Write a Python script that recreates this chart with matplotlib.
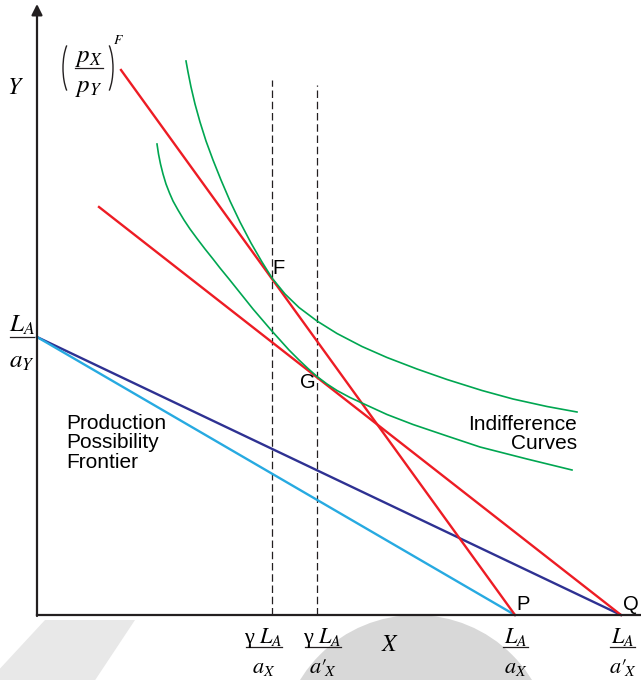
import matplotlib.pyplot as plt
import matplotlib.patches as mpatches
import numpy as np

plt.rcParams['mathtext.fontset'] = 'stix'
plt.rcParams['font.family'] = ['Liberation Sans', 'DejaVu Sans']

# chart values (origin at the corner of the axes)
y_intercept = 278          # L_A / a_Y
x_p = 478                  # L_A / a_X
x_q = 584                  # L_A / a'_X
gamma_x = [235, 280]       # gamma L_A / a_X , gamma L_A / a'_X
gamma_top = [535, 530]

# budget lines: start point, end on the X axis
red1_start = (84, 545)
red2_start = (62, 408)

# indifference curves
ic_high_x = [149, 151, 154, 158, 163, 169, 176, 184, 193, 203, 214, 225, 235, 248, 262,
             280, 300, 325, 350, 380, 410, 445, 476, 510, 540]
ic_high_y = [554, 543, 528, 511, 493, 474, 455, 435, 414, 393, 372, 353, 337, 321, 307.5,
             294, 281.5, 268.5, 257.5, 246, 235.5, 224.5, 216, 208.5, 203]
ic_low_x = [120, 121.5, 123.5, 126, 129, 132.5, 136, 141, 147, 153, 160, 168, 176, 183, 192,
            200, 208, 216, 225, 234, 243, 252, 262, 271, 280, 290, 300, 313, 326, 350, 376,
            410, 443, 490, 535]
ic_low_y = [471, 461, 451, 441, 431, 422, 414, 405, 395, 386, 376.5, 366, 356, 347, 336,
            326, 316, 306, 295.5, 285, 275, 265, 255, 246.5, 238.5, 231, 224.5, 217.5, 211.5,
            200.5, 190.5, 179, 168, 156, 145]

red = '#ED1C24'
green = '#00A651'
navy = '#2E3192'
sky = '#27AAE1'
ink = '#231F20'

fig = plt.figure(figsize=(6.41, 6.80), dpi=100)
ax = fig.add_axes([0, 0, 1, 1])
ax.set_xlim(-37, 604)
ax.set_ylim(-65, 615)
ax.axis('off')


def frac(x, y, num, den, size, half, up, down):
    # numerator, bar and denominator drawn apart, like the original
    ax.plot([x - half, x + half], [y, y], color=ink, lw=0.9)
    ax.text(x, y + up, num, fontsize=size, ha='center', va='baseline',
            family=['Liberation Serif', 'DejaVu Serif'])
    ax.text(x, y - down, den, fontsize=size, ha='center', va='baseline',
            family=['Liberation Serif', 'DejaVu Serif'])


# faint watermark shapes behind everything
ax.add_patch(mpatches.Polygon([(-80, -100), (8, -5), (98, -5), (35, -100)],
                              closed=True, color='#E8E8E8', zorder=0, lw=0))
ax.add_patch(mpatches.Circle((379, -136), 136, color='#D8D8D8', zorder=0, lw=0))

# axes
ax.annotate('', xy=(0, 611), xytext=(0, -1),
            arrowprops=dict(arrowstyle='-|>', lw=1.6, color=ink, mutation_scale=16, shrinkA=0, shrinkB=0))
ax.plot([0, 604], [0, 0], color=ink, lw=1.6, zorder=3)

# dashed verticals
for gx, gt in zip(gamma_x, gamma_top):
    ax.plot([gx, gx], [0, gt], color=ink, lw=0.9, ls=(0, (6, 3)))

# production possibility frontiers
ax.plot([0, x_q], [y_intercept, 0], color=navy, lw=1.7)
ax.plot([0, x_p], [y_intercept, 0], color=sky, lw=1.7)

# price lines
ax.plot([red1_start[0], x_p], [red1_start[1], 0], color=red, lw=1.7)
ax.plot([red2_start[0], x_q], [red2_start[1], 0], color=red, lw=1.7)

# indifference curves
ax.plot(ic_high_x, ic_high_y, color=green, lw=1.2)
ax.plot(ic_low_x, ic_low_y, color=green, lw=1.2)

# axis names
ax.text(-22, 527, '$Y$', fontsize=17, ha='center', va='center')
ax.text(353, -30, '$X$', fontsize=17, ha='center', va='center')

# L_A / a_Y on the Y axis
frac(-15.5, 278, '$L_A$', '$a_Y$', 18, 12, 5, 31)

# relative price (p_X / p_Y)^F, thin round brackets
frac(52, 547, '$p_X$', '$p_Y$', 18, 14, 6, 24)
ax.add_patch(mpatches.Arc((38, 547), 24, 62, theta1=110, theta2=250, color=ink, lw=1.0))
ax.add_patch(mpatches.Arc((64, 547), 24, 62, theta1=-70, theta2=70, color=ink, lw=1.0))
ax.text(81, 575, '$F$', fontsize=10, ha='center', va='center')

# labels under the X axis
bottom_x = [226.5, 285.5, 478.5, 585.5]
bottom_num = ['γ $L_A$', 'γ $L_A$', '$L_A$', '$L_A$']
bottom_den = ['$a_X$', r'$a′\!_X$', '$a_X$', r'$a′\!_X$']
bottom_half = [18, 18, 12.5, 12.5]
for bx, nm, dn, hw in zip(bottom_x, bottom_num, bottom_den, bottom_half):
    frac(bx, -32, nm, dn, 16, hw, 4, 26)

ax.text(242, 346, 'F', fontsize=14.5, ha='center', va='center')
ax.text(271, 233, 'G', fontsize=14.5, ha='center', va='center')
ax.text(486, 10, 'P', fontsize=14.5, ha='center', va='center')
ax.text(594, 10, 'Q', fontsize=14.5, ha='center', va='center')

ax.text(29, 172, 'Production\nPossibility\nFrontier', fontsize=15, ha='left', va='center',
        linespacing=1.05)
ax.text(540, 181, 'Indifference\nCurves', fontsize=15, ha='right', va='center',
        linespacing=1.05)

fig.savefig('out.png', dpi=100)
